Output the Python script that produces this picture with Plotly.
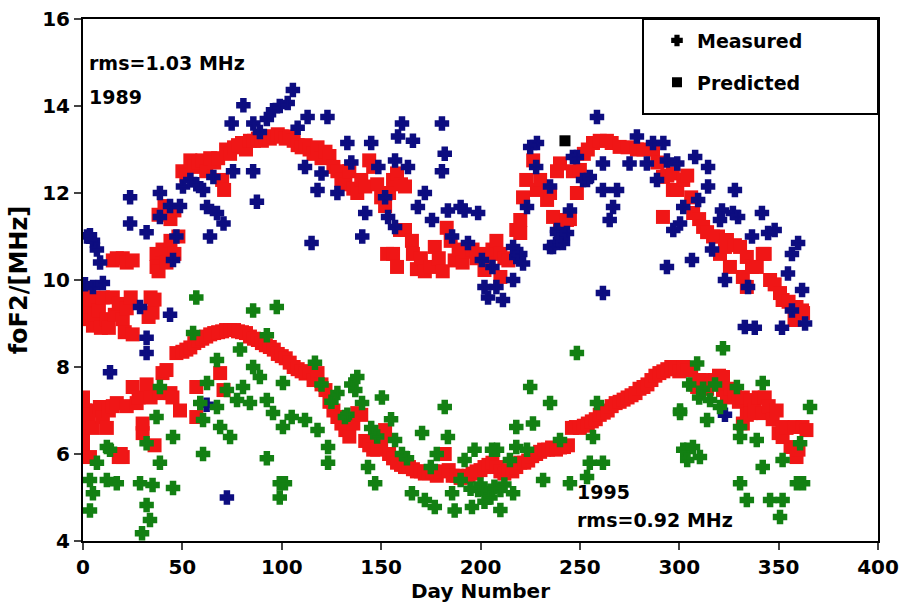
import plotly.graph_objects as go

# foF2 readings, (day number, MHz)
meas_1989 = [
    (1, 9.9), (2, 11.0), (3.5, 11.03), (5, 9.84), (5, 10.9), (7, 10.7), (8.6, 10.4), (10, 9.93),
    (13.6, 7.88), (23.7, 11.9), (23.7, 11.3), (28.7, 9.38), (32, 11.1), (32, 8.67), (32, 8.32),
    (38.7, 12.0), (38.7, 11.45), (43.8, 11.7), (43.8, 9.2), (45.3, 10.46), (47, 11.0), (48.8, 11.7),
    (50.3, 12.15), (54, 12.3), (57, 12.2), (60.4, 12.07), (62.2, 7.13), (62.4, 11.68), (63.9, 11.0),
    (65.6, 12.37), (67.4, 11.54), (70.7, 11.3), (72.4, 5.0), (74.8, 13.6), (75.5, 12.5), (80.7, 14.02),
    (85.6, 12.5), (85.7, 13.6), (87.5, 11.8), (89, 13.4), (92.5, 13.7), (95.6, 13.9), (99, 14.0),
    (103, 14.07), (105.6, 14.37), (108, 13.5), (111.7, 12.6), (113, 13.75), (115, 10.85), (118, 12.07),
    (120, 12.45), (123, 13.75), (128, 12.0), (133, 13.15), (135, 12.7), (140.5, 11.0), (142, 11.54),
    (145, 13.15), (148.6, 12.6), (152, 11.9), (153.5, 11.45), (157, 12.75), (157, 11.22), (158.5, 13.3),
    (160.5, 13.6), (163.5, 12.6), (166, 13.2), (168.5, 11.68), (172, 12.0), (175.6, 11.38), (180.6, 13.6),
    (180.6, 12.5), (182, 12.9), (183.6, 11.6), (185.7, 11.0), (190, 11.68), (192, 11.6), (193.7, 10.85),
    (198.8, 11.54), (200.7, 10.46), (202, 9.84), (203.8, 9.6), (206, 10.3), (208, 9.84), (211.3, 9.54),
    (216.4, 10.0), (216.4, 10.76), (218, 10.53), (220, 10.6), (221.4, 10.38), (223.4, 11.68), (225, 13.06),
    (228.4, 13.15), (228, 12.6), (235, 12.15), (235, 10.76), (236.5, 10.76), (238.5, 11.08), (238.5, 11.15),
    (240, 10.92), (241.5, 10.85), (243.5, 11.08), (245, 11.6), (246.5, 12.83), (248.5, 12.83), (251.6, 12.3),
    (253.6, 12.3), (255, 12.37), (258.6, 13.75), (261.6, 12.68), (261.6, 12.07), (261.6, 9.7), (265, 11.38),
    (266.7, 11.68), (268.7, 12.07), (275, 12.68), (278.7, 13.3), (283.7, 12.68), (286.8, 13.15), (288.8, 12.3),
    (292, 13.15), (293.8, 12.75), (293.8, 10.3), (297, 11.15), (299, 12.68), (300.4, 11.3), (302, 11.68),
    (306.4, 10.46), (308, 12.83), (309.5, 11.84), (314.5, 12.6), (314.5, 12.15), (316.5, 10.7), (320.5, 11.38),
    (321.5, 11.6), (323, 10.0), (323, 6.9), (327, 11.54), (328, 12.07), (329.6, 11.45), (333, 8.92),
    (334.6, 9.84), (336.6, 11.0), (338, 8.9), (341.6, 11.54), (344.7, 11.08), (348, 11.15), (351.7, 8.9),
    (354.7, 10.15), (356.7, 10.6), (356.7, 9.3), (359.8, 10.85), (361.8, 9.77), (363.3, 9.0),
]

pred_1989 = [
    (0, 9.7), (1, 9.1), (2, 9.4), (4, 9.55), (5, 8.95), (6, 9.2), (8, 9.3), (9, 8.9), (10, 9.6),
    (12, 9.1), (13, 8.9), (15, 9.6), (16, 9.2), (18, 9.45), (20, 9.1), (21, 8.8), (22, 9.35), (24, 9.6),
    (25, 8.75), (15, 10.45), (17, 10.5), (20, 10.5), (22, 10.4), (25, 10.45), (33, 9.15), (34, 9.6),
    (35, 9.25), (36, 9.55), (37, 10.6), (37, 10.3), (38, 10.2), (40, 10.7), (42, 10.4), (44, 10.9),
    (46, 10.6), (48, 11.0), (38, 11.5), (41, 11.7), (44, 11.4), (46, 11.6), (50, 12.5), (52, 12.4),
    (54, 12.75), (56, 12.6), (58, 12.7), (60, 12.75), (62, 12.5), (64, 12.8), (66, 12.7), (68, 12.8),
    (70, 12.3), (71, 12.07), (72, 13.0), (74, 12.9), (76, 13.05), (78, 13.1), (80, 13.15), (82, 13.0),
    (84, 13.2), (86, 13.2), (88, 13.25), (90, 13.2), (92, 13.3), (94, 13.25), (96, 13.3), (98, 13.35),
    (100, 13.3), (102, 13.25), (104, 13.3), (106, 13.2), (108, 13.1), (110, 13.05), (112, 13.1),
    (114, 13.0), (116, 12.9), (118, 13.05), (120, 12.8), (122, 12.95), (124, 12.85), (126, 12.6),
    (128, 12.5), (130, 12.3), (132, 12.2), (134, 12.5), (136, 12.1), (138, 12.0), (140, 12.3),
    (142, 12.15), (144, 12.75), (146, 12.6), (148, 12.2), (150, 11.9), (152, 11.7), (154, 12.0),
    (156, 12.3), (158, 12.45), (160, 12.2), (162, 12.15), (159.5, 11.15), (162, 11.15), (165.5, 10.9),
    (153, 10.6), (156, 10.6), (158, 10.3), (166, 10.6), (168, 10.25), (170, 10.5), (172, 10.2),
    (175, 10.3), (177, 10.76), (179, 10.5), (181, 10.2), (183, 11.2), (185, 10.9), (187, 10.45),
    (189, 10.7), (191, 10.4), (193, 10.65), (196, 10.7), (198, 10.5), (200, 10.6), (202, 10.53),
    (202, 10.23), (204, 10.4), (206, 10.7), (208, 10.9), (210, 10.6), (210, 10.07), (212, 10.5),
    (214, 10.45), (218, 11.15), (220, 11.38), (220, 11.08), (221.4, 11.9), (223, 12.3), (226.5, 12.75),
    (228.4, 12.07), (230, 12.3), (233.5, 11.84), (235, 12.0), (236.5, 11.45), (238.5, 12.5),
    (240, 12.68), (240, 11.38), (243.5, 11.38), (245, 11.4), (246.5, 12.5), (248.5, 12.0), (250, 12.53),
    (252, 12.9), (254, 13.0), (256.6, 13.15), (260, 13.2), (263.6, 13.2), (266, 13.15), (270, 13.06),
    (274, 13.05), (278.7, 13.0), (282, 13.0), (286.8, 13.0), (289, 12.7), (291.8, 12.37), (291.8, 11.45),
    (294, 12.4), (296.8, 12.45), (296.8, 12.07), (299, 12.07), (302, 12.3), (304, 12.4), (306, 11.9),
    (307, 11.54), (310, 11.4), (312, 11.22), (314, 11.1), (317, 11.0), (319.5, 11.0), (320.5, 10.6),
    (323, 10.76), (324, 10.92), (325.5, 10.3), (328, 10.8), (330.6, 10.76), (332, 10.07), (334, 10.53),
    (334, 9.84), (336.6, 10.3), (339, 10.3), (342, 10.6), (343, 10.6), (345.7, 10.0), (348, 9.9),
    (350.7, 9.7), (352, 9.54), (355, 9.5), (358, 9.08), (359, 9.38), (361.8, 9.3), (362.3, 9.24),
]

meas_1995 = [
    (3.5, 5.4), (3.5, 4.7), (5, 5.1), (7, 5.8), (12, 5.4), (12, 6.16), (13.6, 6.1), (17, 5.33),
    (28.7, 5.33), (29.7, 4.18), (32, 6.25), (32, 4.83), (33.7, 4.48), (35, 5.29), (37, 6.85),
    (38.7, 7.54), (38.7, 5.8), (45.3, 6.39), (45.3, 5.22), (55.4, 8.78), (57, 9.6), (59, 7.17),
    (60.4, 6.78), (60.4, 6.0), (62.4, 7.63), (67.4, 8.16), (67.4, 7.08), (69, 6.62), (72.4, 7.47),
    (74, 6.39), (77.5, 7.24), (79, 8.4), (80.5, 7.54), (84, 7.17), (85.6, 9.3), (85.6, 8.0), (89, 7.77),
    (92.5, 8.73), (92.5, 7.24), (92.5, 5.9), (95.6, 6.94), (97.5, 9.38), (99, 5.33), (99, 5.0),
    (100.6, 7.63), (100.6, 6.62), (101.6, 5.33), (105, 6.85), (111.7, 6.78), (116.7, 8.1), (118, 6.55),
    (120, 7.6), (123.3, 6.16), (123.3, 5.8), (125, 7.2), (128, 7.4), (131.8, 6.85), (133, 6.9),
    (135, 7.6), (137, 7.47), (138, 7.77), (140.4, 7.17), (143.4, 5.7), (145, 6.6), (147, 5.33),
    (148, 6.4), (150.4, 7.3), (155, 6.8), (157, 6.32), (160.5, 6.0), (163, 5.9), (165.5, 5.1),
    (170.6, 6.48), (172, 4.94), (175, 5.7), (177, 4.78), (178, 6.0), (182, 7.08), (183.6, 6.39),
    (185.7, 5.1), (187, 4.7), (190, 5.4), (192, 5.86), (195, 5.2), (195.7, 4.78), (197, 6.1),
    (198.8, 5.17), (200, 5.3), (202, 4.9), (203.8, 5.1), (205, 5.0), (205.8, 6.1), (207, 5.25),
    (208.3, 6.1), (210, 5.17), (210, 4.71), (212, 5.3), (214.8, 5.86), (216.4, 5.1), (218, 6.62),
    (218, 6.16), (223.4, 6.1), (225, 7.54), (226.4, 6.7), (231.5, 5.4), (235, 7.17), (240, 6.32),
    (245, 5.33), (248.5, 8.32), (253.6, 5.47), (255, 5.8), (256.6, 6.39), (258.6, 7.17), (261.6, 5.8),
    (300.4, 7.0), (300.4, 6.94), (302, 6.1), (304, 6.1), (304, 5.86), (305, 7.6), (306.9, 6.16),
    (309, 8.08), (310, 7.3), (310.4, 5.93), (312, 7.5), (314, 6.78), (315.5, 7.24), (318, 7.6),
    (320.5, 7.08), (322, 8.43), (329, 7.54), (330.6, 6.62), (330.6, 6.39), (330.6, 5.33), (334, 4.94),
    (339, 6.32), (342, 7.63), (342, 5.7), (345.7, 4.94), (350.7, 4.55), (352, 5.86), (352, 4.94),
    (359.2, 5.33), (360.8, 6.25), (362.3, 5.33), (365.8, 7.08),
]

pred_1995 = [
    (0, 7.3), (1, 7.0), (2, 6.7), (3, 6.9), (0, 6.4), (0, 6.16), (3.5, 5.93), (5, 6.6), (7, 7.0),
    (8.5, 7.08), (10, 6.85), (12, 6.6), (13, 7.0), (15, 7.1), (17, 7.17), (18, 5.93), (20, 5.93),
    (19, 6.0), (22, 7.1), (25, 7.54), (27, 7.17), (28, 7.3), (30, 6.48), (30, 6.7), (32, 7.6), (34, 7.3),
    (36, 6.2), (38.7, 7.4), (40, 7.86), (42, 7.93), (44, 7.4), (45, 7.3), (47, 8.32), (48.8, 7.0),
    (50, 8.35), (52, 8.4), (54, 8.45), (56, 8.55), (57, 7.54), (57, 6.85), (58, 8.6), (60, 8.65),
    (62, 8.7), (64, 8.75), (66, 8.78), (68, 8.8), (69, 7.86), (70.7, 7.47), (70, 8.82), (72, 8.85),
    (74, 8.85), (76, 8.85), (78, 8.82), (80, 8.8), (82, 8.78), (84, 8.7), (86, 8.65), (88, 8.62),
    (90, 8.55), (92, 8.5), (94, 8.46), (96, 8.4), (98, 8.3), (100, 8.25), (102, 8.2), (104, 8.1),
    (106, 8.0), (108, 7.95), (110, 7.9), (112, 7.85), (114, 7.9), (116, 7.7), (118, 7.86), (120, 7.6),
    (122, 7.47), (124, 7.2), (126, 7.0), (128, 6.85), (130, 6.7), (132, 6.55), (134, 6.4), (136, 6.7),
    (138, 6.94), (140, 6.9), (142, 6.3), (144, 6.2), (146, 6.1), (148, 6.1), (150, 6.3), (152, 6.55),
    (154, 6.0), (156, 5.9), (158, 5.8), (160, 5.75), (162, 5.7), (164, 5.7), (166, 5.65), (168, 5.6),
    (170, 5.6), (172, 5.55), (174, 5.56), (176, 5.6), (178, 5.5), (180, 5.6), (182, 6.0), (184, 5.63),
    (186, 5.5), (188, 5.5), (190, 5.45), (192, 5.47), (194, 5.5), (196, 5.55), (198, 5.6), (200, 5.63),
    (202, 5.7), (204, 5.75), (206, 5.8), (208, 5.7), (210, 5.6), (212, 5.55), (214, 5.63), (216, 5.6),
    (218, 5.7), (220, 5.8), (222, 5.8), (224, 5.85), (226, 5.95), (228, 6.0), (230, 6.05), (232, 6.1),
    (234, 6.1), (236, 6.15), (238, 6.1), (240, 6.15), (242, 6.16), (244, 6.2), (246, 6.6), (248, 6.62),
    (250, 6.6), (252, 6.65), (254, 6.7), (256, 6.75), (258, 6.8), (260, 6.9), (262, 6.95), (264, 7.0),
    (266, 7.1), (268, 7.17), (270, 7.2), (272, 7.25), (274, 7.3), (276, 7.35), (278, 7.4), (280, 7.5),
    (282, 7.54), (284, 7.6), (286, 7.7), (288, 7.8), (290, 7.86), (292, 7.9), (294, 7.95), (296, 8.0),
    (298, 7.95), (300, 7.9), (302, 8.0), (304, 7.93), (306, 7.93), (308, 7.6), (309, 7.54), (310, 7.7),
    (312, 7.7), (314, 7.5), (316, 7.6), (318, 7.7), (320, 7.8), (322, 7.77), (322, 7.47), (324, 7.3),
    (326, 7.5), (328, 7.4), (330, 7.2), (332, 7.3), (332, 6.7), (334, 6.9), (336, 7.24), (336, 6.94),
    (338, 7.0), (340, 7.3), (342, 6.94), (343, 7.3), (345, 7.1), (347, 6.8), (349, 7.0), (350, 6.48),
    (352, 6.62), (352, 6.39), (354, 6.6), (356, 6.16), (358, 6.62), (359, 5.93), (360, 6.1),
    (362, 6.62), (364, 6.55),
]

odd_point = [(242.5, 13.2)]

FONT = "DejaVu Sans"
BLUE = "#0d0d80"
GREEN = "#138013"
RED = "#f01616"


def xs(pts):
    return [p[0] for p in pts]


def ys(pts):
    return [p[1] for p in pts]


def fat_cross(color, size=10, lw=2.5):
    return dict(symbol="cross", size=size, color=color, line=dict(color=color, width=lw))


fig = go.Figure()

# predicted first, measured drawn on top
fig.add_trace(go.Scatter(x=xs(pred_1989), y=ys(pred_1989), mode="markers", showlegend=False,
                         marker=dict(symbol="square", size=14, color=RED)))
fig.add_trace(go.Scatter(x=xs(pred_1995), y=ys(pred_1995), mode="markers", showlegend=False,
                         marker=dict(symbol="square", size=14, color=RED)))
fig.add_trace(go.Scatter(x=xs(meas_1989), y=ys(meas_1989), mode="markers", showlegend=False,
                         marker=fat_cross(BLUE)))
fig.add_trace(go.Scatter(x=xs(meas_1995), y=ys(meas_1995), mode="markers", showlegend=False,
                         marker=fat_cross(GREEN)))
fig.add_trace(go.Scatter(x=xs(odd_point), y=ys(odd_point), mode="markers", showlegend=False,
                         marker=dict(symbol="square", size=11, color="black")))

# legend entries (black symbols)
fig.add_trace(go.Scatter(x=[None], y=[None], mode="markers", name="Measured", legendgroup="m",
                         marker=fat_cross("black", size=8, lw=2)))
fig.add_trace(go.Scatter(x=[None], y=[None], mode="markers", name="Predicted", legendgroup="p",
                         marker=dict(symbol="square", size=10, color="black")))

ann_font = dict(family=FONT, size=19, color="black", weight="bold")
fig.add_annotation(x=2, y=14.99, text="rms=1.03 MHz", showarrow=False, xanchor="left", font=ann_font)
fig.add_annotation(x=2, y=14.2, text="1989", showarrow=False, xanchor="left", font=ann_font)
fig.add_annotation(x=247.5, y=5.13, text="1995", showarrow=False, xanchor="left", font=ann_font)
fig.add_annotation(x=247.5, y=4.48, text="rms=0.92 MHz", showarrow=False, xanchor="left", font=ann_font)

fig.add_shape(type="rect", xref="paper", yref="paper", x0=0.7044, x1=1, y0=0.818, y1=1,
              line=dict(color="black", width=2))

axis_font = dict(family=FONT, size=20, color="black", weight="bold")
fig.update_xaxes(range=[0, 400], tick0=0, dtick=50, ticks="outside", ticklen=7, tickwidth=2,
                 showline=True, linewidth=2, linecolor="black", mirror=True, showgrid=False,
                 zeroline=False, tickfont=axis_font, automargin=False,
                 title=dict(text="Day Number", font=dict(family=FONT, size=20, color="black", weight="bold"),
                            standoff=4))
fig.update_yaxes(range=[4, 16], tick0=4, dtick=2, ticks="outside", ticklen=7, tickwidth=2,
                 showline=True, linewidth=2, linecolor="black", mirror=True, showgrid=False,
                 zeroline=False, tickfont=axis_font, automargin=False,
                 title=dict(text="foF2/[MHz]", font=dict(family=FONT, size=24, color="black", weight="bold"),
                            standoff=8))

fig.update_layout(
    width=901, height=604,
    margin=dict(l=83, r=23, t=19, b=63, pad=0),
    plot_bgcolor="white", paper_bgcolor="white",
    legend=dict(x=0.722, y=0.995, xanchor="left", yanchor="top", bgcolor="rgba(0,0,0,0)",
                borderwidth=0, tracegroupgap=14, traceorder="grouped",
                font=dict(family=FONT, size=19, color="black", weight="bold")),
)

# the page body has a default 8px margin; drop it so the 901x604 figure fills the window
fig.write_html("out.html", config={"displayModeBar": False},
               post_script="document.body.style.margin='0';")
